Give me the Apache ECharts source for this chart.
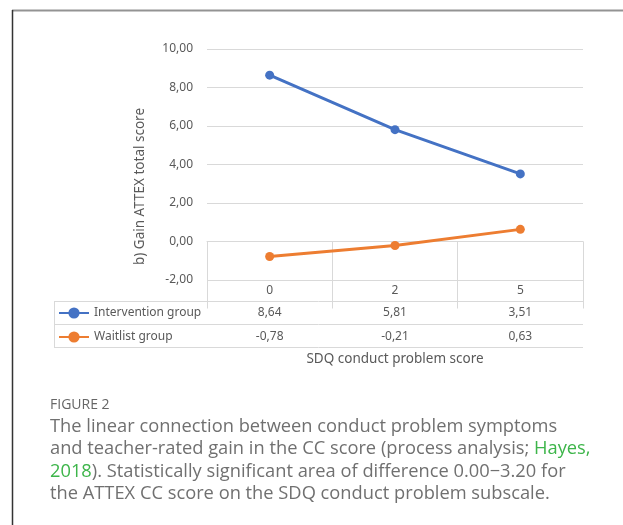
<!DOCTYPE html>
<html>
<head>
<meta charset="utf-8">
<script src="https://cdn.jsdelivr.net/npm/echarts@6/dist/echarts.min.js"></script>
<style>
html,body{margin:0;padding:0;background:#fff;}
#c{width:623px;height:525px;}
</style>
</head>
<body>
<div id="c"></div>
<script>
const categories = ['0', '2', '5'];
const interventionValues = [8.64, 5.81, 3.51];
const waitlistValues = [-0.78, -0.21, 0.63];
const seriesNames = ['Intervention group', 'Waitlist group'];
const yTicks = [-2, 0, 2, 4, 6, 8, 10];

const fmt = v => v.toFixed(2).replace('.', ',');
const textColor = '#595959';
const gridColor = '#d9d9d9';
const font = 'Noto Sans';

const chart = echarts.init(document.getElementById('c'));
chart.setOption({
  animation: false,
  textStyle: { fontFamily: font },
  grid: { left: 207, right: 40, top: 49, bottom: 245 },
  title: {
    left: 50, top: 396, padding: 0,
    text: '{h|FIGURE 2}\n{t|The linear connection between conduct problem symptoms}\n{t|and teacher-rated gain in the CC score (process analysis; }{g|Hayes,}\n{g|2018}{t|). Statistically significant area of difference 0.00\u22123.20 for}\n{t|the ATTEX CC score on the SDQ conduct problem subscale.}',
    textStyle: {
      fontWeight: 'normal',
      rich: {
        h: { fontFamily: 'Open Sans', fontSize: 14, fontWeight: 'normal', color: '#666666', lineHeight: 19 },
        t: { fontFamily: 'Open Sans', fontSize: 18.3, fontWeight: 'normal', color: '#707070', lineHeight: 22.6 },
        g: { fontFamily: 'Open Sans', fontSize: 18.3, fontWeight: 'normal', color: '#3db54a', lineHeight: 22.6 }
      }
    }
  },
  legend: {
    orient: 'vertical', left: 58, top: 307, itemGap: 12, padding: 0,
    itemWidth: 30, itemHeight: 14,
    textStyle: { color: textColor, fontSize: 12, fontFamily: font },
    data: seriesNames
  },
  xAxis: [
    {
      type: 'category', data: categories, position: 'bottom',
      axisLine: { show: true, lineStyle: { color: gridColor } },
      axisTick: { show: true, length: 67, lineStyle: { color: gridColor } },
      axisLabel: { color: textColor, fontSize: 12, margin: 5 }
    },
    {
      type: 'category', data: interventionValues.map(fmt), position: 'bottom', offset: 22,
      axisLine: { show: false }, axisTick: { show: false },
      axisLabel: { color: textColor, fontSize: 12, margin: 5 }
    },
    {
      type: 'category', data: waitlistValues.map(fmt), position: 'bottom', offset: 45,
      axisLine: { show: false }, axisTick: { show: false },
      axisLabel: { color: textColor, fontSize: 12, margin: 6 },
      name: 'SDQ conduct problem score', nameLocation: 'middle', nameGap: 27,
      nameTextStyle: { color: textColor, fontSize: 13.5 }
    }
  ],
  yAxis: {
    type: 'value', min: yTicks[0], max: yTicks[yTicks.length - 1], interval: 2,
    axisLine: { show: false }, axisTick: { show: false },
    splitLine: { lineStyle: { color: gridColor } },
    axisLabel: { color: textColor, fontSize: 12, margin: 14, formatter: v => fmt(v) },
    name: 'b) Gain ATTEX total score', nameLocation: 'middle', nameGap: 60,
    nameTextStyle: { color: textColor, fontSize: 13.5, padding: [0, 44, 0, 0] }
  },
  series: [
    {
      name: seriesNames[0], type: 'line', data: interventionValues,
      symbol: 'circle', symbolSize: 9,
      itemStyle: { color: '#4472c4' }, lineStyle: { width: 3, color: '#4472c4' }
    },
    {
      name: seriesNames[1], type: 'line', data: waitlistValues,
      symbol: 'circle', symbolSize: 9,
      itemStyle: { color: '#ed7d31' }, lineStyle: { width: 3, color: '#ed7d31' }
    }
  ],
  graphic: [
    { type: 'line', shape: { x1: 12, y1: 10.5, x2: 623, y2: 10.5 }, style: { stroke: '#939393', lineWidth: 2 } },
    { type: 'line', shape: { x1: 12.5, y1: 10, x2: 12.5, y2: 525 }, style: { stroke: '#333333', lineWidth: 1.5 } },
    { type: 'line', shape: { x1: 54, y1: 301.5, x2: 583, y2: 301.5 }, style: { stroke: gridColor, lineWidth: 1 } },
    { type: 'line', shape: { x1: 54, y1: 324.5, x2: 583, y2: 324.5 }, style: { stroke: gridColor, lineWidth: 1 } },
    { type: 'line', shape: { x1: 54, y1: 347.5, x2: 583, y2: 347.5 }, style: { stroke: gridColor, lineWidth: 1 } },
    { type: 'line', shape: { x1: 54.5, y1: 301, x2: 54.5, y2: 347.5 }, style: { stroke: gridColor, lineWidth: 1 } }
  ]
});
</script>
</body>
</html>
